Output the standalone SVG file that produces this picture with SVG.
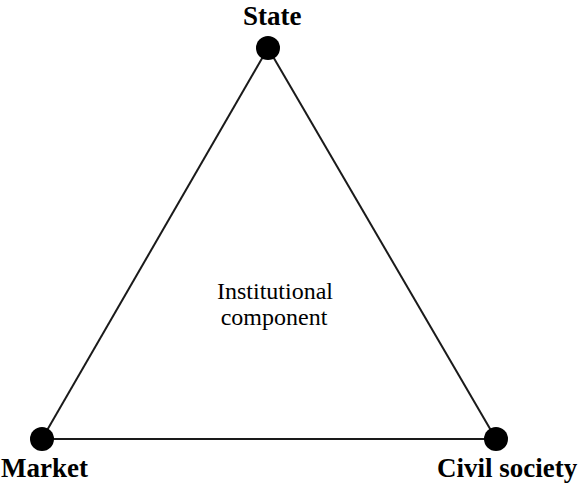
<svg xmlns="http://www.w3.org/2000/svg" width="582" height="485" viewBox="0 0 582 485">
<style>
.edge{stroke:#1a1a1a;stroke-width:2;fill:none}
.dot{fill:#000}
text{font-family:'Liberation Serif','Times New Roman',Times,serif;fill:#000}
.lbl{font-weight:bold;font-size:27px}
.mid{font-size:24px;text-anchor:middle}
</style>
<rect width="582" height="485" fill="#fff"/>
<g id="connectors">
<line class="edge" x1="268" y1="48" x2="42" y2="439"/>
<line class="edge" x1="268" y1="48" x2="496" y2="439"/>
<line class="edge" x1="42" y1="439" x2="496" y2="439"/>
</g>
<g id="state">
<circle class="dot" cx="268" cy="48" r="12"/>
<text class="lbl" x="243" y="25">State</text>
</g>
<g id="market">
<circle class="dot" cx="42" cy="439" r="12"/>
<text class="lbl" x="1" y="477">Market</text>
</g>
<g id="civil">
<circle class="dot" cx="496" cy="439" r="12"/>
<text class="lbl" x="437" y="477">Civil society</text>
</g>
<g id="center">
<text class="mid" x="275" y="299">Institutional</text>
<text class="mid" x="274" y="325">component</text>
</g>
</svg>
